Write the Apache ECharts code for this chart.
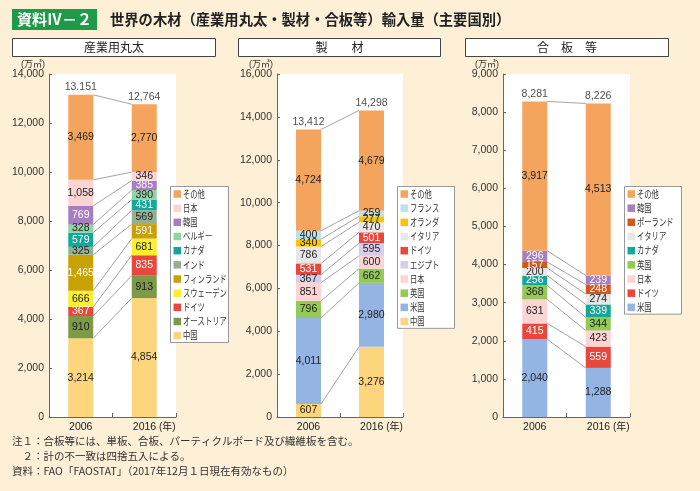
<!DOCTYPE html>
<html><head><meta charset="utf-8">
<script src="https://cdn.jsdelivr.net/npm/echarts@6/dist/echarts.min.js"></script>
<style>html,body{margin:0;padding:0;background:#fdf0d6;}#c{width:700px;height:491px;}</style>
</head><body><div id="c"></div>
<script>
// ---- data ----
const years = ['2006', '2016'];
// 産業用丸太 (bottom -> top)
const logNames = ['中国','オーストリア','ドイツ','スウェーデン','フィンランド','インド','カナダ','ベルギー','韓国','日本','その他'];
const log2006 = [3214, 910, 367, 666, 1465, 325, 579, 328, 769, 1058, 3469];
const log2016 = [4854, 913, 835, 681, 591, 569, 431, 390, 385, 346, 2770];
const logTotals = [13151, 12764];
const logTotalText = ['13.151', '12,764'];
// 製材
const lumNames = ['中国','米国','英国','日本','エジプト','ドイツ','イタリア','オランダ','フランス','その他'];
const lum2006 = [607, 4011, 796, 851, 367, 531, 786, 340, 400, 4724];
const lum2016 = [3276, 2980, 662, 600, 595, 501, 470, 277, 259, 4679];
const lumTotals = [13412, 14298];
const lumTotalText = ['13,412', '14,298'];
// 合板等
const plyNames = ['米国','ドイツ','日本','英国','カナダ','イタリア','ポーランド','韓国','その他'];
const ply2006 = [2040, 415, 631, 368, 256, 200, 157, 296, 3917];
const ply2016 = [1288, 559, 423, 344, 339, 274, 248, 239, 4513];
const plyTotals = [8281, 8226];
const plyTotalText = ['8,281', '8,226'];
// axes
const yMax = [14000, 16000, 9000];
const yInterval = [2000, 2000, 1000];

// ---- styles ----
const colors = {
  'その他':'#f4a45c','日本':'#fdd4d4','韓国':'#a97dc1','ベルギー':'#92d3a4','カナダ':'#14a89d',
  'インド':'#91b192','フィンランド':'#c9a200','スウェーデン':'#fbef2e','ドイツ':'#e9473d',
  'オーストリア':'#7d9a48','中国':'#fdd57d','フランス':'#b6e3ec','オランダ':'#fbc300',
  'イタリア':'#e7e7e7','エジプト':'#d6cdea','英国':'#93c954','米国':'#94b4e3','ポーランド':'#d4581c'
};
const whiteLabel = new Set(['カナダ','韓国','フィンランド','ドイツ','ポーランド']);
const FONT = '"Liberation Sans", "Noto Sans CJK JP", sans-serif';
const JP = '"Noto Sans CJK JP"';
const grids = [
  {left: 49, top: 74, width: 127, height: 343},
  {left: 277, top: 74, width: 126, height: 343},
  {left: 503, top: 74, width: 127, height: 343}
];
const legendBoxes = [{x: 170, y: 186, w: 58}, {x: 397, y: 186, w: 57}, {x: 624, y: 186, w: 57}];
const BARW = 25;

const panels = [
  {names: logNames, a: log2006, b: log2016, tot: logTotals, totText: logTotalText},
  {names: lumNames, a: lum2006, b: lum2016, tot: lumTotals, totText: lumTotalText},
  {names: plyNames, a: ply2006, b: ply2016, tot: plyTotals, totText: plyTotalText}
];

const series = [];
const legendGraphics = [];
panels.forEach((p, gi) => {
  p.names.forEach((n, k) => {
    series.push({
      type: 'bar', name: n, id: 'p' + gi + '_' + k, xAxisIndex: gi, yAxisIndex: gi,
      stack: 's' + gi, barWidth: BARW, data: [p.a[k], p.b[k]],
      itemStyle: {color: colors[n]},
      label: {show: true, position: 'inside', fontSize: 10.5, fontFamily: FONT,
        color: whiteLabel.has(n) ? '#fff' : '#222',
        formatter: o => o.value.toLocaleString('en-US')},
      emphasis: {disabled: true}
    });
  });
  // connecting lines
  const lines = [];
  let c0 = 0, c1 = 0;
  for (let k = 0; k < p.names.length; k++) {
    c0 += p.a[k]; c1 += p.b[k];
    lines.push([0, c0, c1]);
  }
  series.push({
    type: 'custom', xAxisIndex: gi, yAxisIndex: gi, data: lines, encode: {x: 0, y: 1},
    silent: true, z: 1,
    renderItem: (params, api) => {
      const s = api.coord([0, api.value(1)]);
      const e = api.coord([1, api.value(2)]);
      return {type: 'line', shape: {x1: s[0] + BARW / 2, y1: s[1], x2: e[0] - BARW / 2, y2: e[1]},
        style: {stroke: '#8c8c8c', lineWidth: 0.8}};
    }
  });
  // totals
  series.push({
    type: 'scatter', xAxisIndex: gi, yAxisIndex: gi, symbolSize: 0, silent: true,
    data: [[0, p.tot[0]], [1, p.tot[1]]],
    label: {show: true, position: 'top', distance: 2, fontSize: 10.5, fontFamily: FONT, color: '#222',
      formatter: o => p.totText[o.dataIndex]}
  });
  // legend box (drawn as graphic so the text can be condensed like the original)
  const lb = legendBoxes[gi];
  const items = p.names.slice().reverse();
  const pitch = 14.17;
  const h = 14.3 + (items.length - 1) * pitch;
  legendGraphics.push({type: 'rect', z: 100, shape: {x: lb.x + 0.5, y: lb.y + 0.5, width: lb.w, height: h},
    style: {fill: '#fff', stroke: '#999', lineWidth: 1}});
  items.forEach((n, i) => {
    const cy = lb.y + 8 + i * pitch;
    legendGraphics.push({type: 'rect', z: 101, shape: {x: lb.x + 3.5, y: cy - 3.75, width: 7.5, height: 7.5},
      style: {fill: colors[n]}});
    legendGraphics.push({type: 'text', z: 101, x: lb.x + 13, y: cy, scaleX: 0.73,
      style: {text: n, fill: '#333', font: '10px ' + JP, verticalAlign: 'middle', align: 'left'}});
  });
});

const option = {
  backgroundColor: '#fdf0d6',
  animation: false,
  textStyle: {fontFamily: FONT},
  grid: grids.map(g => Object.assign({show: true, backgroundColor: '#ffffff', borderWidth: 0}, g)),
  xAxis: grids.map((g, i) => ({
    type: 'category', gridIndex: i, data: years,
    axisLine: {lineStyle: {color: '#666', width: 1}},
    axisTick: {show: true, inside: true, length: 4, lineStyle: {color: '#666'}},
    axisLabel: {fontSize: 10.5, color: '#222', margin: 5, fontFamily: FONT, interval: 0, hideOverlap: false,
      formatter: (v, idx) => idx === 1 ? '{p|}' + v + '{u| (年)}' : v,
      rich: {p: {width: 20}, u: {fontSize: 10, color: '#222', fontFamily: FONT}}}
  })),
  yAxis: grids.map((g, i) => ({
    type: 'value', gridIndex: i, min: 0, max: yMax[i], interval: yInterval[i],
    name: '(万㎥)', nameLocation: 'end', nameGap: 4,
    nameTextStyle: {fontSize: 9, color: '#333', align: 'right', padding: [0, 4, 0, 0], fontFamily: FONT},
    axisLine: {show: true, lineStyle: {color: '#666', width: 1}},
    axisTick: {show: true, inside: true, length: 3, lineStyle: {color: '#666'}},
    splitLine: {show: false},
    axisLabel: {fontSize: 10.5, color: '#333', margin: 5, fontFamily: FONT,
      formatter: v => v.toLocaleString('en-US')}
  })),
  series: series,
  graphic: [
    {type: 'rect', shape: {x: 12, y: 9, width: 85, height: 21}, style: {fill: '#1f9a4a'}},
    {type: 'text', x: 54.5, y: 19.5, style: {text: '資料Ⅳ－２', fill: '#fff', font: 'bold 15px ' + JP, align: 'center', verticalAlign: 'middle'}},
    {type: 'text', x: 110, y: 19.5, style: {text: '世界の木材（産業用丸太・製材・合板等）輸入量（主要国別）', fill: '#222', font: 'bold 14.3px ' + JP, verticalAlign: 'middle'}},
    {type: 'rect', shape: {x: 12.5, y: 38.5, width: 203, height: 18}, style: {fill: '#fff', stroke: '#444', lineWidth: 1}},
    {type: 'text', x: 114, y: 47.5, style: {text: '産業用丸太', fill: '#222', font: '12px ' + JP, align: 'center', verticalAlign: 'middle'}},
    {type: 'rect', shape: {x: 238.5, y: 38.5, width: 202, height: 18}, style: {fill: '#fff', stroke: '#444', lineWidth: 1}},
    {type: 'text', x: 339.5, y: 47.5, style: {text: '製　　材', fill: '#222', font: '12px ' + JP, align: 'center', verticalAlign: 'middle'}},
    {type: 'rect', shape: {x: 465.5, y: 38.5, width: 203, height: 18}, style: {fill: '#fff', stroke: '#444', lineWidth: 1}},
    {type: 'text', x: 567, y: 47.5, style: {text: '合　板　等', fill: '#222', font: '12px ' + JP, align: 'center', verticalAlign: 'middle'}},
    {type: 'text', x: 12, y: 441, style: {text: '注１：合板等には、単板、合板、パーティクルボード及び繊維板を含む。', fill: '#333', font: '10.5px ' + JP, verticalAlign: 'middle'}},
    {type: 'text', x: 12, y: 456, style: {text: '　２：計の不一致は四捨五入による。', fill: '#333', font: '10.5px ' + JP, verticalAlign: 'middle'}},
    {type: 'text', x: 12, y: 471, style: {text: '資料：FAO「FAOSTAT」（2017年12月１日現在有効なもの）', fill: '#333', font: '10.5px ' + JP, verticalAlign: 'middle'}}
  ].concat(legendGraphics)
};
const chart = echarts.init(document.getElementById('c'), null, {renderer: 'canvas'});
chart.setOption(option);
</script></body></html>
